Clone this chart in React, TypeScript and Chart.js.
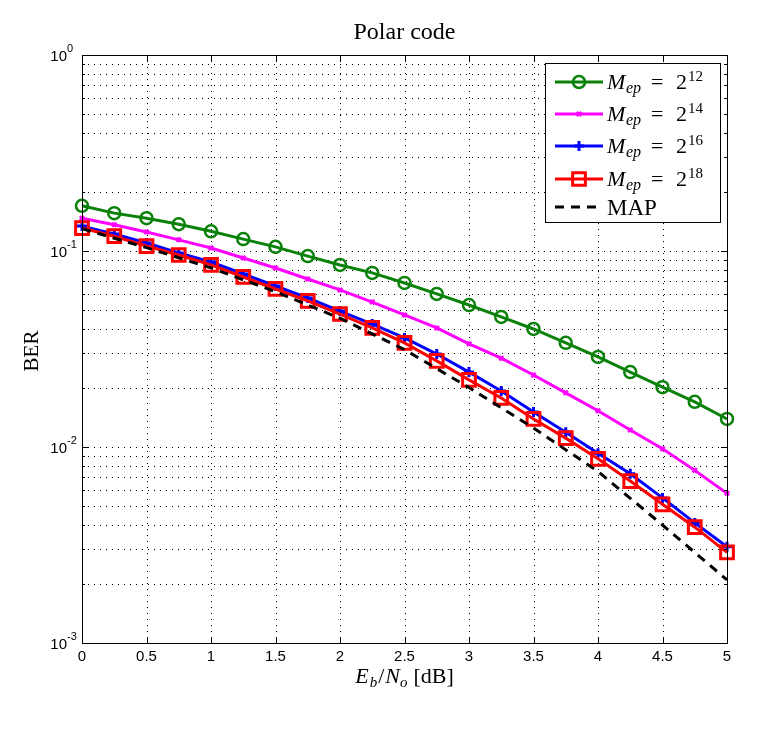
import React, { useEffect, useRef } from 'react';
import { Chart, registerables } from 'chart.js';
Chart.register(...registerables);

const ebno = [0, 0.25, 0.5, 0.75, 1, 1.25, 1.5, 1.75, 2, 2.25, 2.5, 2.75, 3, 3.25, 3.5, 3.75, 4, 4.25, 4.5, 4.75, 5];
const ber12 = [0.170, 0.156, 0.147, 0.137, 0.126, 0.115, 0.105, 0.0942, 0.0849, 0.0773, 0.0687, 0.0604, 0.0530, 0.0461, 0.0400, 0.0340, 0.0288, 0.0241, 0.0202, 0.0170, 0.0139];
const ber14 = [0.147, 0.136, 0.125, 0.114, 0.1036, 0.0921, 0.0819, 0.0720, 0.0633, 0.0549, 0.0472, 0.0405, 0.0336, 0.0284, 0.0233, 0.0189, 0.0153, 0.0122, 0.0098, 0.0076, 0.0058];
const ber16 = [0.134, 0.122, 0.110, 0.0977, 0.0879, 0.0763, 0.0663, 0.0576, 0.0494, 0.0424, 0.0360, 0.0298, 0.0241, 0.0193, 0.0151, 0.0119, 0.0093, 0.0073, 0.0055, 0.0041, 0.0031];
const ber18 = [0.131, 0.119, 0.106, 0.0954, 0.0849, 0.0737, 0.0640, 0.0556, 0.0477, 0.0405, 0.0340, 0.0275, 0.0220, 0.0178, 0.0139, 0.0111, 0.0087, 0.0067, 0.0051, 0.0039, 0.0029];
const mapX = [0, 0.5, 1, 1.5, 2, 2.5, 3, 3.5, 4, 4.5, 5];
const mapBer = [0.130, 0.104, 0.082, 0.062, 0.0454, 0.0314, 0.0201, 0.0125, 0.0075, 0.0040, 0.0021];

const xTicks = [0, 0.5, 1, 1.5, 2, 2.5, 3, 3.5, 4, 4.5, 5];
const xTickLabels = ['0', '0.5', '1', '1.5', '2', '2.5', '3', '3.5', '4', '4.5', '5'];
const yDecades = [1, 0.1, 0.01, 0.001];
const yTickExps = ['0', '-1', '-2', '-3'];
const legendExps = ['12', '14', '16', '18'];

const title = 'Polar code';
const yLabel = 'BER';

const SERIF = '"Liberation Serif", "DejaVu Serif", serif';
const SANS = '"Liberation Sans", Arial, sans-serif';

const zip = (xs: number[], ys: number[]) => xs.map((x, i) => ({ x, y: ys[i] }));

function drawMarker(ctx: CanvasRenderingContext2D, style: string, x: number, y: number, r: number, color: string, lw: number) {
  ctx.save();
  ctx.strokeStyle = color;
  ctx.lineWidth = lw;
  ctx.setLineDash([]);
  ctx.beginPath();
  if (style === 'circle') {
    ctx.arc(x, y, r, 0, Math.PI * 2);
  } else if (style === 'rect') {
    const s = r * Math.SQRT1_2;
    ctx.rect(x - s, y - s, 2 * s, 2 * s);
  } else if (style === 'cross') {
    ctx.moveTo(x - r, y); ctx.lineTo(x + r, y);
    ctx.moveTo(x, y - r); ctx.lineTo(x, y + r);
  } else if (style === 'crossRot') {
    const s = r * Math.SQRT1_2;
    ctx.moveTo(x - s, y - s); ctx.lineTo(x + s, y + s);
    ctx.moveTo(x + s, y - s); ctx.lineTo(x - s, y + s);
  }
  ctx.stroke();
  ctx.restore();
}

const drawPlugin = {
  id: 'matlabStyle',
  beforeDatasetsDraw(chart: any) {
    const { ctx, chartArea: a, scales } = chart;
    const xs = scales.x, ys = scales.y;
    ctx.save();
    ctx.fillStyle = '#fff';
    ctx.fillRect(a.left, a.top, a.right - a.left, a.bottom - a.top);
    ctx.strokeStyle = '#000';
    ctx.lineWidth = 1;
    ctx.setLineDash([1, 5]);
    xTicks.forEach((t) => {
      if (t === 0 || t === 5) return;
      const px = Math.round(xs.getPixelForValue(t)) + 0.5;
      ctx.beginPath(); ctx.moveTo(px, a.top); ctx.lineTo(px, a.bottom); ctx.stroke();
    });
    for (let d = 0.001; d < 1; d *= 10) {
      for (let m = 1; m <= 9; m++) {
        const v = d * m;
        if (m === 1 && Math.abs(d - 0.001) < 1e-9) continue;
        const py = Math.round(ys.getPixelForValue(v)) + 0.5;
        ctx.beginPath(); ctx.moveTo(a.left, py); ctx.lineTo(a.right, py); ctx.stroke();
      }
    }
    ctx.restore();
  },
  afterDatasetsDraw(chart: any) {
    const { ctx, chartArea: a, scales } = chart;
    const xs = scales.x, ys = scales.y;
    ctx.save();
    ctx.setLineDash([]);
    ctx.strokeStyle = '#000';
    ctx.lineWidth = 1;
    // box
    ctx.strokeRect(Math.round(a.left) + 0.5, Math.round(a.top) + 0.5, Math.round(a.right - a.left), Math.round(a.bottom - a.top));
    // x tick marks
    xTicks.forEach((t) => {
      const px = Math.round(xs.getPixelForValue(t)) + 0.5;
      ctx.beginPath();
      ctx.moveTo(px, a.bottom); ctx.lineTo(px, a.bottom - 6);
      ctx.moveTo(px, a.top); ctx.lineTo(px, a.top + 6);
      ctx.stroke();
    });
    // y tick marks
    for (let d = 0.001; d <= 1.0001; d *= 10) {
      for (let m = 1; m <= 9; m++) {
        const v = d * m;
        if (v > 1.0001) break;
        const len = m === 1 ? 6 : 3;
        const py = Math.round(ys.getPixelForValue(v)) + 0.5;
        ctx.beginPath();
        ctx.moveTo(a.left, py); ctx.lineTo(a.left + len, py);
        ctx.moveTo(a.right, py); ctx.lineTo(a.right - len, py);
        ctx.stroke();
      }
    }
    ctx.fillStyle = '#000';
    // x tick labels
    ctx.font = `15px ${SANS}`;
    ctx.textAlign = 'center';
    ctx.textBaseline = 'middle';
    xTicks.forEach((t, i) => {
      ctx.fillText(xTickLabels[i], xs.getPixelForValue(t), a.bottom + 14);
    });
    // y tick labels
    yDecades.forEach((v, i) => {
      const py = ys.getPixelForValue(v);
      ctx.font = `15px ${SANS}`;
      ctx.textAlign = 'right';
      ctx.textBaseline = 'middle';
      ctx.fillText('10', a.left - 15, py + 2);
      ctx.font = `11px ${SANS}`;
      ctx.textAlign = 'left';
      ctx.fillText(yTickExps[i], a.left - 15, py - 6);
    });
    // title
    ctx.font = `24px ${SERIF}`;
    ctx.textAlign = 'center';
    ctx.textBaseline = 'alphabetic';
    ctx.fillText(title, (a.left + a.right) / 2, 39);
    // y label
    ctx.save();
    ctx.translate(38, (a.top + a.bottom) / 2 + 2);
    ctx.rotate(-Math.PI / 2);
    ctx.font = `21px ${SERIF}`;
    ctx.textAlign = 'center';
    ctx.textBaseline = 'alphabetic';
    ctx.fillText(yLabel, 0, 0);
    ctx.restore();
    // x label: E_b/N_o [dB]
    {
      const parts: [string, string, number, number][] = [
        ['E', `italic 22px ${SERIF}`, 0, 1],
        ['b', `italic 15px ${SERIF}`, 4, 1],
        ['/', `22px ${SERIF}`, 0, 1],
        ['N', `italic 22px ${SERIF}`, 0, 0],
        ['o', `italic 15px ${SERIF}`, 4, 6],
        ['[dB]', `22px ${SERIF}`, 0, 0],
      ];
      let total = 0;
      parts.forEach(([s, f, , g]) => { ctx.font = f; total += ctx.measureText(s).width + g; });
      let x = (a.left + a.right) / 2 - total / 2;
      ctx.textAlign = 'left';
      ctx.textBaseline = 'alphabetic';
      parts.forEach(([s, f, dy, g]) => {
        ctx.font = f; ctx.fillText(s, x, 683 + dy); x += ctx.measureText(s).width + g;
      });
    }
    // legend
    {
      const lx = 545, ly = 63, lw = 175, lh = 159;
      ctx.fillStyle = '#fff';
      ctx.fillRect(lx, ly, lw, lh);
      ctx.strokeStyle = '#000';
      ctx.lineWidth = 1;
      ctx.strokeRect(lx + 0.5, ly + 0.5, lw, lh);
      const rowsY = [82, 114, 146, 179, 207];
      const dsList = chart.data.datasets;
      dsList.forEach((ds: any, i: number) => {
        const y = rowsY[i];
        ctx.save();
        ctx.strokeStyle = ds.borderColor;
        ctx.lineWidth = ds.borderWidth;
        ctx.setLineDash(ds.borderDash || []);
        ctx.beginPath(); ctx.moveTo(555, y); ctx.lineTo(603, y); ctx.stroke();
        ctx.restore();
        if (ds.pointRadius > 0) {
          drawMarker(ctx, ds.pointStyle, 579, y, ds.pointRadius, ds.pointBorderColor, ds.pointBorderWidth);
        }
        ctx.fillStyle = '#000';
        ctx.textAlign = 'left';
        ctx.textBaseline = 'alphabetic';
        const base = y + 7;
        if (i < 4) {
          ctx.font = `italic 22px ${SERIF}`; ctx.fillText('M', 607, base);
          ctx.font = `italic 16px ${SERIF}`; ctx.fillText('ep', 626, base + 4);
          ctx.font = `22px ${SERIF}`; ctx.fillText('=', 651, base);
          ctx.fillText('2', 676, base);
          ctx.font = `15px ${SERIF}`; ctx.fillText(legendExps[i], 688, base - 8);
        } else {
          ctx.font = `23px ${SERIF}`; ctx.fillText('MAP', 607, base + 1);
        }
      });
    }
    ctx.restore();
  },
};

export default function App() {
  const ref = useRef<HTMLCanvasElement>(null);
  useEffect(() => {
    document.body.style.margin = '0';
    const canvas = ref.current!;
    const chart = new Chart(canvas, {
      type: 'line',
      data: {
        datasets: [
          {
            label: 'M_ep = 2^12', data: zip(ebno, ber12), borderColor: '#0a820a', borderWidth: 3,
            pointStyle: 'circle', pointRadius: 6, pointBorderWidth: 2.5, pointBackgroundColor: 'rgba(0,0,0,0)',
            pointBorderColor: '#0a820a', order: 5, clip: false,
          },
          {
            label: 'M_ep = 2^14', data: zip(ebno, ber14), borderColor: '#ff00ff', borderWidth: 3,
            pointStyle: 'crossRot', pointRadius: 3, pointBorderWidth: 2.5, pointBorderColor: '#ff00ff',
            pointBackgroundColor: '#ff00ff', order: 4, clip: false,
          },
          {
            label: 'M_ep = 2^16', data: zip(ebno, ber16), borderColor: '#0000ff', borderWidth: 3,
            pointStyle: 'cross', pointRadius: 5, pointBorderWidth: 3, pointBorderColor: '#0000ff',
            pointBackgroundColor: '#0000ff', order: 3, clip: false,
          },
          {
            label: 'M_ep = 2^18', data: zip(ebno, ber18), borderColor: '#ff0000', borderWidth: 3,
            pointStyle: 'rect', pointRadius: 9, pointBorderWidth: 3, pointBorderColor: '#ff0000',
            pointBackgroundColor: 'rgba(0,0,0,0)', order: 2, clip: false,
          },
          {
            label: 'MAP', data: zip(mapX, mapBer), borderColor: '#000', borderWidth: 3, borderDash: [9, 7],
            pointRadius: 0, pointStyle: 'circle', order: 1, clip: false,
          },
        ] as any,
      },
      options: {
        animation: false,
        responsive: false,
        maintainAspectRatio: false,
        events: [],
        layout: { padding: { top: 55, right: 55, left: 0, bottom: 0 } },
        plugins: { legend: { display: false }, title: { display: false }, tooltip: { enabled: false } },
        elements: { line: { tension: 0 } },
        scales: {
          x: {
            type: 'linear', min: 0, max: 5,
            grid: { display: false }, border: { display: false }, ticks: { display: false },
            afterFit: (s: any) => { s.height = 87; },
          },
          y: {
            type: 'logarithmic', min: 0.001, max: 1,
            grid: { display: false }, border: { display: false }, ticks: { display: false },
            afterFit: (s: any) => { s.width = 82; },
          },
        },
      } as any,
      plugins: [drawPlugin],
    });
    return () => chart.destroy();
  }, []);
  return (
    <div style={{ position: 'absolute', left: 0, top: 0, width: 782, height: 730, background: '#fff' }}>
      <canvas ref={ref} width={782} height={730} style={{ display: 'block' }} />
    </div>
  );
}
